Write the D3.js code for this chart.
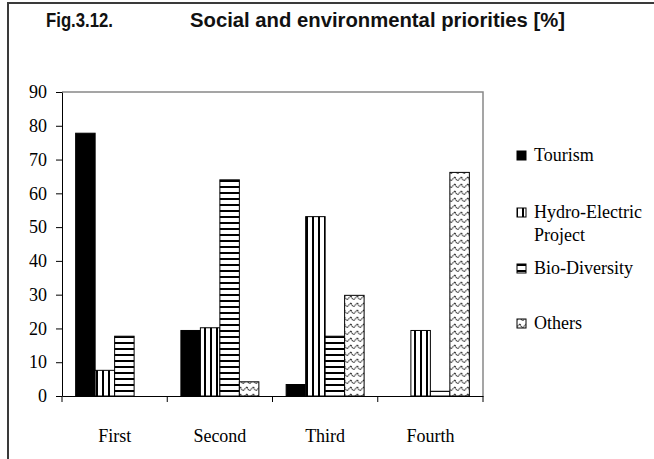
<!DOCTYPE html>
<html>
<head>
<meta charset="utf-8">
<script src="https://cdn.jsdelivr.net/npm/d3@7/dist/d3.min.js"></script>
<style>
  html, body { margin: 0; padding: 0; background: #fff; }
  svg { display: block; }
  svg text.serif { font-family: "Liberation Serif", "Times New Roman", "DejaVu Serif", serif; }
  svg text.sans { font-family: "Liberation Sans", Arial, sans-serif; font-weight: bold; }
</style>
</head>
<body>
<svg id="chart" width="654" height="459"></svg>
<script>
// Priority rank groups along the x axis
const categories = ["First", "Second", "Third", "Fourth"];
// Series (legend order)
const seriesNames = ["Tourism", "Hydro-Electric Project", "Bio-Diversity", "Others"];
// Share of respondents [%] per rank, one array per series
const tourism = [77.8, 19.4, 3.4, 0];
const hydroElectric = [7.6, 20.2, 53.1, 19.4];
const bioDiversity = [17.7, 64.0, 17.7, 1.4];
const others = [0, 4.2, 29.8, 66.2];
// Y axis tick values
const yTicks = [0, 10, 20, 30, 40, 50, 60, 70, 80, 90];

const seriesValues = [tourism, hydroElectric, bioDiversity, others];
const fills = ["#000", "url(#pVert)", "url(#pHoriz)", "url(#pWave)"];

const svg = d3.select("#chart");
const plot = { left: 62, right: 483, top: 92, bottom: 396 };
const fs = 18;

// Fill patterns
const defs = svg.append("defs");
const pv = defs.append("pattern").attr("id", "pVert").attr("patternUnits", "userSpaceOnUse")
  .attr("width", 6).attr("height", 6);
pv.append("rect").attr("width", 6).attr("height", 6).attr("fill", "#fff");
pv.append("rect").attr("x", 0).attr("width", 2).attr("height", 6).attr("fill", "#000");

const ph = defs.append("pattern").attr("id", "pHoriz").attr("patternUnits", "userSpaceOnUse")
  .attr("width", 6).attr("height", 6);
ph.append("rect").attr("width", 6).attr("height", 6).attr("fill", "#fff");
ph.append("rect").attr("y", 0).attr("width", 6).attr("height", 2).attr("fill", "#000");

const pw = defs.append("pattern").attr("id", "pWave").attr("patternUnits", "userSpaceOnUse")
  .attr("width", 6.5).attr("height", 7);
pw.append("rect").attr("width", 6.5).attr("height", 7).attr("fill", "#fff");
pw.append("path").attr("d", "M0,2 Q1.6,6.5 3.25,5 T6.5,2")
  .attr("fill", "none").attr("stroke", "#333").attr("stroke-width", 1.2)
  .attr("stroke-dasharray", "1.4,0.6");

// Outer chart frame
svg.append("rect").attr("x", 8).attr("y", 3).attr("width", 700).attr("height", 500)
  .attr("fill", "#fff").attr("stroke", "#3a3a3a").attr("stroke-width", 2);

// Title
svg.append("text").attr("class", "sans").attr("x", 46).attr("y", 27)
  .attr("font-size", 20).attr("fill", "#111")
  .attr("textLength", 67).attr("lengthAdjust", "spacingAndGlyphs")
  .text("Fig.3.12.");
svg.append("text").attr("class", "sans").attr("x", 190).attr("y", 27)
  .attr("font-size", 20).attr("fill", "#111")
  .attr("textLength", 375).attr("lengthAdjust", "spacingAndGlyphs")
  .text("Social and environmental priorities [%]");

// Scales
const x0 = d3.scaleBand().domain(categories).range([plot.left, plot.right]).padding(0);
const x1 = d3.scaleBand().domain(seriesNames).range([0, x0.bandwidth()])
  .paddingInner(0).paddingOuter(0.7);
const y = d3.scaleLinear().domain([0, 90]).range([plot.bottom, plot.top]);

// Plot area border (top and right)
svg.append("path")
  .attr("d", `M${plot.left},${plot.top}H${plot.right}V${plot.bottom}`)
  .attr("fill", "none").attr("stroke", "#888").attr("stroke-width", 1.5);

// Bars
const rows = [];
categories.forEach((c, i) => {
  seriesNames.forEach((s, j) => {
    const v = seriesValues[j][i];
    if (v > 0) rows.push({ c, s, j, v });
  });
});
svg.append("g").selectAll("rect").data(rows).join("rect")
  .attr("x", d => x0(d.c) + x1(d.s))
  .attr("y", d => y(d.v))
  .attr("width", x1.bandwidth())
  .attr("height", d => y(0) - y(d.v))
  .attr("fill", d => fills[d.j])
  .attr("stroke", "#000").attr("stroke-width", 1);

// Y axis
const yAxis = svg.append("g").attr("transform", `translate(${plot.left},0)`)
  .call(d3.axisLeft(y).tickValues(yTicks).tickSize(6).tickPadding(9).tickSizeOuter(0));
yAxis.attr("font-family", null).attr("font-size", null);
yAxis.select(".domain").attr("stroke", "#000").attr("stroke-width", 1);
yAxis.selectAll(".tick line").attr("stroke", "#000");
yAxis.selectAll("text").attr("class", "serif").attr("font-size", fs).attr("fill", "#000");

// X axis with tick marks at group boundaries
const xAxis = svg.append("g").attr("transform", `translate(0,${plot.bottom})`)
  .call(d3.axisBottom(x0).tickSize(0).tickPadding(33).tickSizeOuter(0));
xAxis.attr("font-family", null).attr("font-size", null);
xAxis.select(".domain").attr("stroke", "#000").attr("stroke-width", 1);
xAxis.selectAll("text").attr("class", "serif").attr("font-size", fs).attr("fill", "#000");
const bounds = categories.map(c => x0(c)).concat([plot.right]);
xAxis.selectAll(".bound").data(bounds).join("line").attr("class", "bound")
  .attr("x1", d => d).attr("x2", d => d).attr("y1", 0).attr("y2", 6)
  .attr("stroke", "#000");

// Legend
const legend = [
  { lines: ["Tourism"], y: 161 },
  { lines: ["Hydro-Electric", "Project"], y: 218 },
  { lines: ["Bio-Diversity"], y: 274 },
  { lines: ["Others"], y: 329 }
];
const lg = svg.append("g");
legend.forEach((d, j) => {
  lg.append("rect").attr("x", 517).attr("y", d.y - 10).attr("width", 9).attr("height", 9)
    .attr("fill", fills[j]).attr("stroke", "#000").attr("stroke-width", 1);
  const t = lg.append("text").attr("class", "serif").attr("x", 534).attr("y", d.y)
    .attr("font-size", fs).attr("fill", "#000");
  d.lines.forEach((ln, k) => {
    t.append("tspan").attr("x", 534).attr("dy", k === 0 ? 0 : 23).text(ln);
  });
});
</script>
</body>
</html>
